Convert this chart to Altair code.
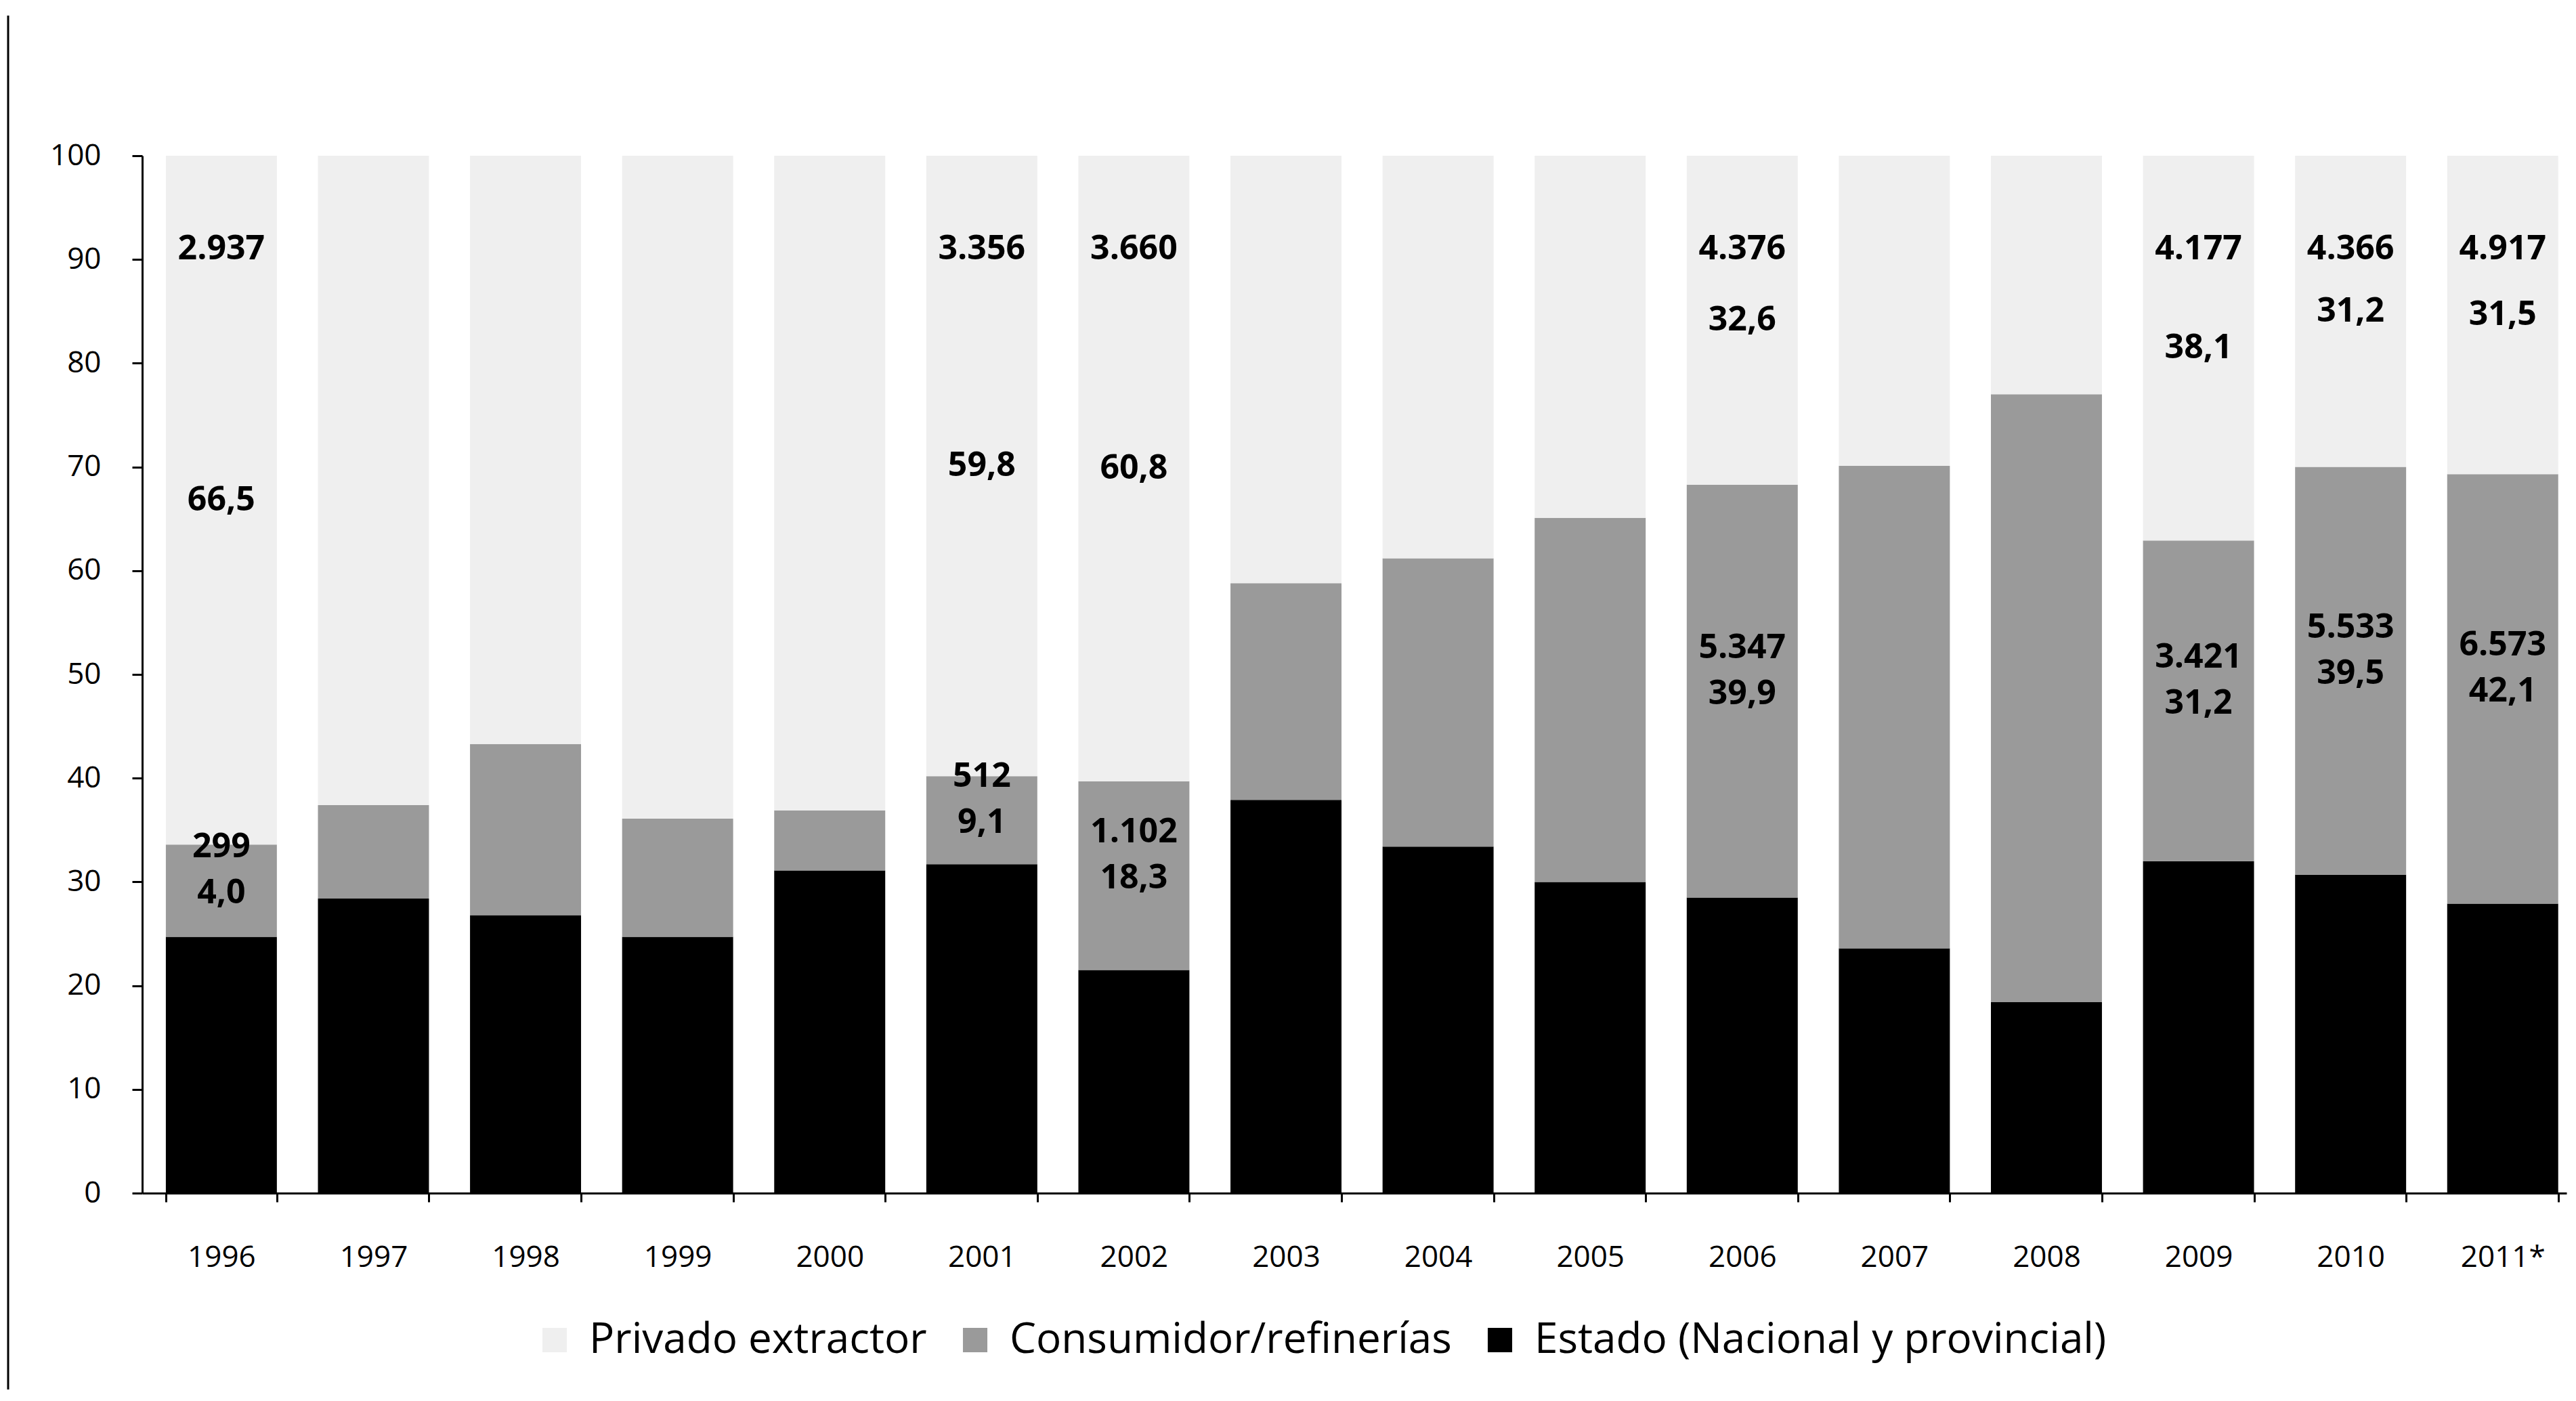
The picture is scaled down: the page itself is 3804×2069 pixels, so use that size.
import altair as alt
import pandas as pd

years = ["1996", "1997", "1998", "1999", "2000", "2001", "2002", "2003",
         "2004", "2005", "2006", "2007", "2008", "2009", "2010", "2011*"]
estado = [24.7, 28.4, 26.8, 24.7, 31.1, 31.7, 21.5, 37.9,
          33.4, 30.0, 28.5, 23.6, 18.4, 32.0, 30.7, 27.9]
consumidor = [8.9, 9.0, 16.5, 11.4, 5.8, 8.5, 18.2, 20.9,
              27.8, 35.1, 39.8, 46.5, 58.6, 30.9, 39.3, 41.4]
privado = [66.4, 62.6, 56.7, 63.9, 63.1, 59.8, 60.3, 41.2,
           38.8, 34.9, 31.7, 29.9, 23.0, 37.1, 30.0, 30.7]

top_amount = ["2.937", "", "", "", "", "3.356", "3.660", "", "", "", "4.376", "", "", "4.177", "4.366", "4.917"]
top_share = ["66,5", "", "", "", "", "59,8", "60,8", "", "", "", "32,6", "", "", "38,1", "31,2", "31,5"]
mid_amount = ["299", "", "", "", "", "512", "1.102", "", "", "", "5.347", "", "", "3.421", "5.533", "6.573"]
mid_share = ["4,0", "", "", "", "", "9,1", "18,3", "", "", "", "39,9", "", "", "31,2", "39,5", "42,1"]

series_names = ["Privado extractor", "Consumidor/refinerías", "Estado (Nacional y provincial)"]
colors = ["#efefef", "#9a9a9a", "#000000"]

rows = []
for i, yr in enumerate(years):
    for s, vals, order in [(series_names[2], estado, 0),
                           (series_names[1], consumidor, 1),
                           (series_names[0], privado, 2)]:
        rows.append({"year": yr, "series": s, "value": vals[i], "order": order})
bars = pd.DataFrame(rows)

lab_rows = []
for i, yr in enumerate(years):
    mid_top = estado[i] + consumidor[i]
    if top_amount[i]:
        lab_rows.append({"year": yr, "text": top_amount[i], "pos": 91.0, "kind": "ta"})
    if top_share[i]:
        lab_rows.append({"year": yr, "text": top_share[i], "pos": (mid_top + 100) / 2, "kind": "ts"})
    if mid_share[i]:
        lab_rows.append({"year": yr, "text": mid_share[i], "pos": estado[i] + consumidor[i] / 2, "kind": "ms"})
    if mid_amount[i]:
        lab_rows.append({"year": yr, "text": mid_amount[i], "pos": estado[i] + consumidor[i] / 2, "kind": "ma"})
labels = pd.DataFrame(lab_rows)

W, H = 3580, 1532

xenc = alt.X("year:N", sort=years,
             scale=alt.Scale(paddingInner=0.27, paddingOuter=0.105, align=0.74),
             axis=alt.Axis(title=None, labelAngle=0, tickBand="extent", tickSize=13,
                           labelPadding=60, domainWidth=3, tickWidth=3))

bar = alt.Chart(bars).mark_bar().encode(
    x=xenc,
    y=alt.Y("value:Q", stack="zero", scale=alt.Scale(domain=[0, 100], nice=False),
            axis=alt.Axis(title=None, values=list(range(0, 101, 10)), tickSize=15,
                          labelPadding=46, grid=False, domainWidth=3, tickWidth=3)),
    color=alt.Color("series:N", scale=alt.Scale(domain=series_names, range=colors),
                    legend=alt.Legend(orient="none", legendX=578, legendY=1718,
                                      direction="horizontal", title=None,
                                      symbolType="square", symbolSize=1300,
                                      symbolStrokeWidth=0,
                                      labelFont="Open Sans", labelFontSize=62,
                                      labelColor="black", labelOffset=20,
                                      columnPadding=40, padding=0, labelLimit=0)),
    order=alt.Order("order:Q"),
)

def text_layer(kind, dy=0):
    return alt.Chart(labels).transform_filter(alt.datum.kind == kind).mark_text(
        font="Open Sans", fontWeight="bold", fontSize=50, color="black",
        baseline="middle", dy=dy
    ).encode(x=alt.X("year:N", sort=years), y=alt.Y("pos:Q"), text="text:N")

frame = alt.Chart(pd.DataFrame({"k": [0]})).mark_rule(color="black", strokeWidth=3).encode(
    x=alt.value(-198), y=alt.value(-207), y2=alt.value(1839)
)

chart = alt.layer(
    bar,
    text_layer("ta"), text_layer("ts"), text_layer("ms", dy=4), text_layer("ma", dy=-64),
    frame,
).properties(
    width=W, height=H,
    padding={"left": 202, "top": 222, "right": 5, "bottom": 290},
    autosize=alt.AutoSizeParams(type="none"),
).configure_view(stroke=None).configure_axis(
    labelFont="Open Sans", labelFontSize=44, labelColor="black",
    domainColor="black", tickColor="black",
)

chart.save("out.html", embed_options={"renderer": "svg", "actions": False})
